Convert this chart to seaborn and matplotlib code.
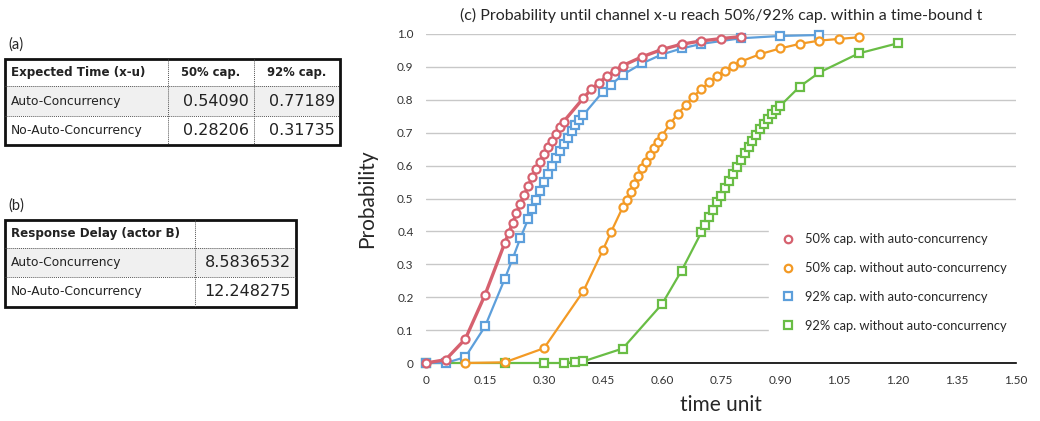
import matplotlib
matplotlib.use("Agg")
import matplotlib.pyplot as plt
from matplotlib.lines import Line2D
import pandas as pd
import seaborn as sns

# -------------------------
# Data
# -------------------------
x_red = [0, 0.05, 0.10, 0.15, 0.20, 0.21, 0.22, 0.23, 0.24, 0.25, 0.26, 0.27, 0.28, 0.29,
         0.30, 0.31, 0.32, 0.33, 0.34, 0.35, 0.40, 0.42, 0.44, 0.46, 0.48, 0.50, 0.55,
         0.60, 0.65, 0.70, 0.75, 0.80]
y_red = [0, 0.01, 0.073, 0.207, 0.364, 0.395, 0.425, 0.455, 0.484, 0.511, 0.538, 0.565,
         0.589, 0.612, 0.635, 0.656, 0.676, 0.696, 0.716, 0.734, 0.805, 0.832, 0.852,
         0.872, 0.889, 0.904, 0.931, 0.953, 0.969, 0.979, 0.986, 0.992]

x_orange = [0.10, 0.20, 0.30, 0.40, 0.45, 0.47, 0.50, 0.51, 0.52, 0.53, 0.54, 0.55, 0.56,
            0.57, 0.58, 0.59, 0.60, 0.62, 0.64, 0.66, 0.68, 0.70, 0.72, 0.74, 0.76, 0.78,
            0.80, 0.85, 0.90, 0.95, 1.00, 1.05, 1.10]
y_orange = [0, 0.002, 0.045, 0.218, 0.344, 0.397, 0.473, 0.496, 0.519, 0.545, 0.569, 0.592,
            0.612, 0.633, 0.653, 0.673, 0.691, 0.726, 0.757, 0.784, 0.81, 0.833, 0.853,
            0.872, 0.889, 0.903, 0.916, 0.939, 0.956, 0.97, 0.98, 0.985, 0.99]

x_blue = [0, 0.05, 0.10, 0.15, 0.20, 0.22, 0.24, 0.26, 0.27, 0.28, 0.29, 0.30, 0.31, 0.32,
          0.33, 0.34, 0.35, 0.36, 0.37, 0.38, 0.39, 0.40, 0.45, 0.47, 0.50, 0.55, 0.60,
          0.65, 0.70, 0.80, 0.90, 1.00]
y_blue = [0, 0, 0.018, 0.111, 0.255, 0.316, 0.38, 0.438, 0.468, 0.496, 0.524, 0.55, 0.575,
          0.599, 0.622, 0.645, 0.665, 0.685, 0.705, 0.723, 0.739, 0.754, 0.825, 0.845,
          0.876, 0.911, 0.938, 0.956, 0.97, 0.987, 0.994, 0.997]

x_green = [0, 0.20, 0.30, 0.35, 0.38, 0.40, 0.50, 0.60, 0.65, 0.70, 0.71, 0.72, 0.73, 0.74,
           0.75, 0.76, 0.77, 0.78, 0.79, 0.80, 0.81, 0.82, 0.83, 0.84, 0.85, 0.86, 0.87,
           0.88, 0.89, 0.90, 0.95, 1.00, 1.10, 1.20]
y_green = [0, 0, 0, 0, 0.003, 0.005, 0.044, 0.179, 0.281, 0.397, 0.42, 0.443, 0.466, 0.488,
           0.509, 0.531, 0.554, 0.575, 0.597, 0.617, 0.638, 0.656, 0.675, 0.693, 0.711,
           0.727, 0.742, 0.757, 0.769, 0.781, 0.84, 0.883, 0.941, 0.972]

series_names = ["50% cap. with auto-concurrency", "50% cap. without auto-concurrency",
                "92% cap. with auto-concurrency", "92% cap. without auto-concurrency"]
series_colors = ["#d6616f", "#f39a25", "#5d9fdb", "#69bd45"]
series_markers = ["o", "o", "s", "s"]

x_ticks = [0, 0.15, 0.30, 0.45, 0.60, 0.75, 0.90, 1.05, 1.20, 1.35, 1.50]
x_ticklabels = ["0", "0.15", "0.30", "0.45", "0.60", "0.75", "0.90", "1.05", "1.20", "1.35", "1.50"]
y_ticks = [0, 0.1, 0.2, 0.3, 0.4, 0.5, 0.6, 0.7, 0.8, 0.9, 1.0]
y_ticklabels = ["0", "0.1", "0.2", "0.3", "0.4", "0.5", "0.6", "0.7", "0.8", "0.9", "1.0"]

table_a_rows = [["Expected Time (x-u)", "50% cap.", "92% cap."],
                ["Auto-Concurrency", "0.54090", "0.77189"],
                ["No-Auto-Concurrency", "0.28206", "0.31735"]]
table_b_rows = [["Response Delay (actor B)", ""],
                ["Auto-Concurrency", "8.5836532"],
                ["No-Auto-Concurrency", "12.248275"]]

# -------------------------
# Figure
# -------------------------
sns.set_style("white")
plt.rcParams["font.family"] = ["Lato", "DejaVu Sans"]

fig = plt.figure(figsize=(10.4, 4.21), dpi=100)
W, H = 1040, 421


def fx(px):
    return px / W


def fy(py):
    return 1 - py / H


ax = fig.add_axes([fx(426), fy(363), fx(1016) - fx(426), fy(34) - fy(363)])

data = [(x_red, y_red), (x_orange, y_orange), (x_blue, y_blue), (x_green, y_green)]
# draw green first and red last so red sits on top like the reference
for i in [3, 1, 2, 0]:
    xs, ys = data[i]
    df = pd.DataFrame({"t": xs, "p": ys})
    sns.lineplot(data=df, x="t", y="p", ax=ax, color=series_colors[i],
                 lw=2.4 if i == 0 else 1.6, marker=series_markers[i],
                 markersize=5.8 if series_markers[i] == "o" else 5.4,
                 markerfacecolor="white", markeredgecolor=series_colors[i],
                 markeredgewidth=1.6, clip_on=False, zorder=3 + (3 - i))

ax.set_xlim(0, 1.5)
ax.set_ylim(0, 1.0)
ax.set_xticks(x_ticks)
ax.set_xticklabels(x_ticklabels)
ax.set_yticks(y_ticks)
ax.set_yticklabels(y_ticklabels)
ax.tick_params(axis="both", length=0, labelsize=8.5, colors="#333333", pad=9)
ax.yaxis.grid(True, color="#c8c8c8", lw=1)
ax.set_axisbelow(True)
for s in ["top", "right", "left"]:
    ax.spines[s].set_visible(False)
ax.spines["bottom"].set_color("black")
ax.spines["bottom"].set_linewidth(1.2)

ax.set_xlabel("time unit", fontsize=15, labelpad=6)
ax.set_ylabel("Probability", fontsize=15, labelpad=14)
ax.set_title("(c) Probability until channel x-u reach 50%/92% cap. within a time-bound t",
             fontsize=11.5, pad=10)

handles = [Line2D([], [], ls="none", marker=series_markers[i], markersize=5.4,
                  markerfacecolor="white", markeredgecolor=series_colors[i],
                  markeredgewidth=1.6) for i in range(4)]
leg = ax.legend(handles, series_names, loc="lower right", bbox_to_anchor=(1.012, 0.044),
                frameon=True, fontsize=9.3, labelspacing=1.3, handletextpad=0.55,
                handlelength=1.4, borderpad=0.8)
leg.get_frame().set_facecolor("white")
leg.get_frame().set_edgecolor("white")
leg.get_frame().set_alpha(1)
leg.set_zorder(10)

# -------------------------
# Tables (a) and (b)
# -------------------------


def draw_table(rows, left, top, col_w, row_h, label):
    tw = sum(col_w)
    th = sum(row_h)
    tax = fig.add_axes([fx(left), fy(top + th), fx(tw), th / H])
    tax.set_xlim(0, tw)
    tax.set_ylim(th, 0)
    tax.axis("off")
    y = 0
    for r, row in enumerate(rows):
        if r == 1:
            tax.add_patch(plt.Rectangle((0, y), tw, row_h[r], color="#f0f0f0", lw=0))
        x = 0
        for c, txt in enumerate(row):
            if c == 0:
                tax.text(x + 6, y + row_h[r] / 2, txt, ha="left", va="center",
                         fontsize=8.6 if r == 0 else 8.8,
                         fontweight="bold" if r == 0 else "normal",
                         family=["DejaVu Sans"], color="#222222")
            elif r == 0:
                tax.text(x + col_w[c] / 2, y + row_h[r] / 2, txt, ha="center",
                         va="center", fontsize=8.4, fontweight="bold",
                         family=["DejaVu Sans"], color="#222222")
            else:
                tax.text(x + col_w[c] - 5, y + row_h[r] / 2, txt, ha="right",
                         va="center", fontsize=11.5, family=["DejaVu Sans"],
                         color="#222222")
            x += col_w[c]
        y += row_h[r]
    # dotted inner lines
    y = 0
    for r in range(len(rows) - 1):
        y += row_h[r]
        tax.plot([0, tw], [y, y], color="#555555", lw=0.7, ls=(0, (1, 1)))
    x = 0
    for c in range(len(col_w) - 1):
        x += col_w[c]
        tax.plot([x, x], [0, th], color="#555555", lw=0.7, ls=(0, (1, 1)))
    tax.add_patch(plt.Rectangle((0, 0), tw, th, fill=False, ec="#111111", lw=2,
                                clip_on=False))
    fig.text(fx(left + 3), fy(top - 14), label, fontsize=10.5, va="center", ha="left")


draw_table(table_a_rows, 5, 59, [163, 86, 86], [27, 30, 29], "(a)")
draw_table(table_b_rows, 5, 220, [190, 101], [28, 29, 30], "(b)")

plt.savefig("out.png", dpi=100)
